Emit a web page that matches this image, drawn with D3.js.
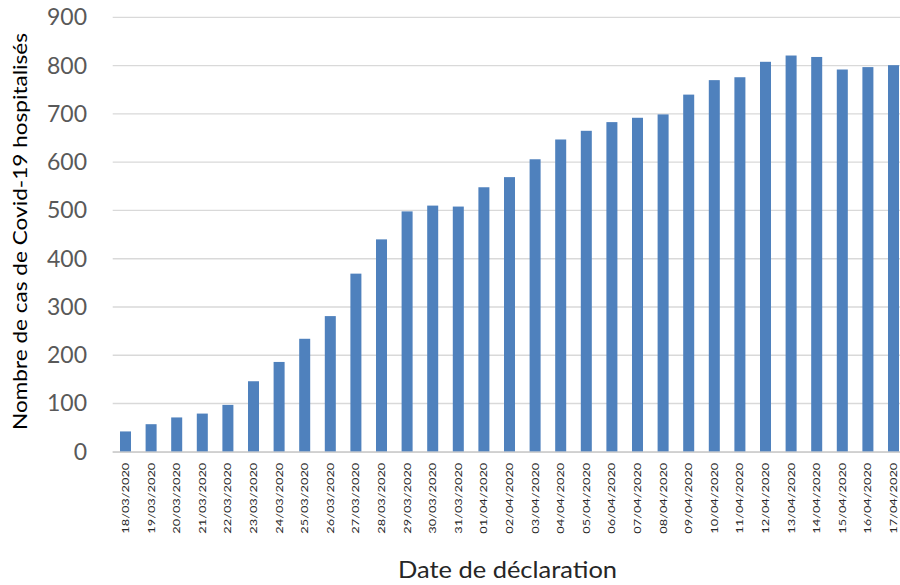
<!DOCTYPE html>
<html lang="fr">
<head>
<meta charset="utf-8">
<title>Nombre de cas de Covid-19 hospitalisés</title>
<script src="https://cdn.jsdelivr.net/npm/d3@7"></script>
<style>
  html, body { margin: 0; padding: 0; background: #fff; }
  svg { display: block; }
  text { font-family: Lato, "Open Sans", sans-serif; }
</style>
</head>
<body>
<svg id="chart" width="900" height="585"></svg>
<script>
// Daily declarations
const dates = [
  "18/03/2020", "19/03/2020", "20/03/2020", "21/03/2020", "22/03/2020",
  "23/03/2020", "24/03/2020", "25/03/2020", "26/03/2020", "27/03/2020",
  "28/03/2020", "29/03/2020", "30/03/2020", "31/03/2020", "01/04/2020",
  "02/04/2020", "03/04/2020", "04/04/2020", "05/04/2020", "06/04/2020",
  "07/04/2020", "08/04/2020", "09/04/2020", "10/04/2020", "11/04/2020",
  "12/04/2020", "13/04/2020", "14/04/2020", "15/04/2020", "16/04/2020",
  "17/04/2020"
];
const hospitalises = [
  42, 57, 71, 79, 97, 146, 186, 234, 281, 369,
  440, 498, 510, 508, 548, 569, 606, 647, 665, 683,
  692, 699, 740, 770, 776, 808, 821, 818, 792, 797,
  801
];
const yTicks = [0, 100, 200, 300, 400, 500, 600, 700, 800, 900];

const yTitle = "Nombre de cas de Covid-19 hospitalisés";
const xTitle = "Date de déclaration";

const svg = d3.select("#chart");

const plot = { left: 112.7, right: 906.3, top: 17.4, bottom: 451.7 };

const x = d3.scaleBand()
  .domain(dates)
  .range([plot.left, plot.right])
  .paddingInner(0.57)
  .paddingOuter(0.285);

const y = d3.scaleLinear()
  .domain([0, 900])
  .range([plot.bottom, plot.top]);

// Horizontal gridlines
svg.append("g")
  .attr("class", "grid")
  .selectAll("line")
  .data(yTicks)
  .join("line")
  .attr("x1", plot.left)
  .attr("x2", 900)
  .attr("y1", d => y(d))
  .attr("y2", d => y(d))
  .attr("stroke", "#d9d9d9")
  .attr("stroke-width", 1.4);

// Y axis labels
const yAxis = svg.append("g")
  .attr("transform", `translate(87,0)`)
  .call(d3.axisLeft(y).tickValues(yTicks).tickSize(0).tickPadding(0));
yAxis.select(".domain").remove();
yAxis.selectAll("text")
  .attr("font-family", "Lato, 'Open Sans', sans-serif")
  .attr("font-size", 23)
  .attr("fill", "#595959");

// Bars
svg.append("g")
  .selectAll("rect")
  .data(dates)
  .join("rect")
  .attr("x", d => x(d))
  .attr("width", x.bandwidth())
  .attr("y", (d, i) => y(hospitalises[i]))
  .attr("height", (d, i) => y(0) - y(hospitalises[i]))
  .attr("fill", "#4f81bd");

// Baseline
svg.append("line")
  .attr("x1", plot.left)
  .attr("x2", 900)
  .attr("y1", y(0) + 0.5)
  .attr("y2", y(0) + 0.5)
  .attr("stroke", "#d0d0d0")
  .attr("stroke-width", 1.4);

// X axis date labels, rotated to read upward
const xAxis = svg.append("g")
  .attr("transform", `translate(0,${plot.bottom})`)
  .call(d3.axisBottom(x).tickSize(0).tickPadding(0));
xAxis.select(".domain").remove();
xAxis.selectAll("text")
  .attr("font-family", "Lato, 'Open Sans', sans-serif")
  .attr("font-size", 10)
  .attr("fill", "#262626")
  .attr("text-anchor", "end")
  .attr("transform", "rotate(-90)")
  .attr("x", -11)
  .attr("y", 0)
  .attr("dy", "0.35em")
  .attr("textLength", 71)
  .attr("lengthAdjust", "spacingAndGlyphs");

// Axis titles
svg.append("text")
  .attr("transform", "translate(27,231.5) rotate(-90)")
  .attr("text-anchor", "middle")
  .attr("font-size", 20)
  .attr("fill", "#000")
  .attr("textLength", 397)
  .attr("lengthAdjust", "spacingAndGlyphs")
  .text(yTitle);

svg.append("text")
  .attr("x", 507.5)
  .attr("y", 578)
  .attr("text-anchor", "middle")
  .attr("font-size", 23)
  .attr("fill", "#262626")
  .attr("textLength", 219)
  .attr("lengthAdjust", "spacingAndGlyphs")
  .text(xTitle);
</script>
</body>
</html>
